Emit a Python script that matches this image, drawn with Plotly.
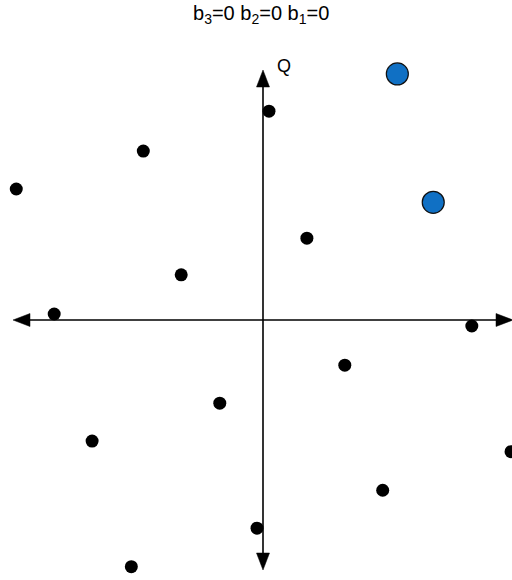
import plotly.graph_objects as go

# 16-point constellation (I/Q coordinates), rotated grid
i_black = [0.09, -1.80, -3.71, 0.66, -1.23, -3.14, 3.14, 1.23,
           -0.65, -2.57, 3.73, 1.80, -0.09, -1.98]
q_black = [3.14, 2.54, 1.97, 1.23, 0.68, 0.09, -0.09, -0.68,
           -1.25, -1.82, -1.98, -2.56, -3.13, -3.71]

# symbols selected by b3=0 b2=0 b1=0
i_sel = [2.02, 2.56]
q_sel = [3.70, 1.77]

title_text = "b<sub>3</sub>=0 b<sub>2</sub>=0 b<sub>1</sub>=0"
axis_label = "Q"

W, H = 512, 580
PX = 66.5                      # pixels per data unit (equal on both axes)
x_range = [-263 / PX, 249 / PX]
y_range = [-260 / PX, 320 / PX]

axis_half = 250 / PX           # half-length of the I/Q axis arrows
head_len = 17 / PX
head_half = 6.5 / PX
line_w = 1.6
FONT = "Arial, Liberation Sans, sans-serif"

fig = go.Figure()

fig.add_trace(go.Scatter(
    x=i_black, y=q_black, mode="markers",
    marker=dict(size=13, color="black", line=dict(width=0)),
    showlegend=False, hoverinfo="skip",
))
fig.add_trace(go.Scatter(
    x=i_sel, y=q_sel, mode="markers",
    marker=dict(size=22, color="#1070c4", line=dict(width=1.2, color="#111111")),
    showlegend=False, hoverinfo="skip",
))

shapes = []
# axis shafts
shapes.append(dict(type="line", x0=-axis_half + head_len * 0.5, x1=axis_half - head_len * 0.5,
                   y0=0, y1=0, line=dict(color="black", width=line_w)))
shapes.append(dict(type="line", y0=-axis_half + head_len * 0.5, y1=axis_half - head_len * 0.5,
                   x0=0, x1=0, line=dict(color="black", width=line_w)))


def head(tip_x, tip_y, dx, dy):
    """Filled triangular arrowhead pointing along (dx, dy)."""
    bx, by = tip_x - dx * head_len, tip_y - dy * head_len
    px, py = -dy * head_half, dx * head_half
    return dict(type="path",
                path=f"M {tip_x},{tip_y} L {bx + px},{by + py} L {bx - px},{by - py} Z",
                fillcolor="black", line=dict(color="black", width=0.5))


shapes.append(head(axis_half, 0, 1, 0))
shapes.append(head(-axis_half, 0, -1, 0))
shapes.append(head(0, axis_half, 0, 1))
shapes.append(head(0, -axis_half, 0, -1))

annotations = [
    dict(text=title_text, x=261 / W, y=1 - 14 / H, xref="paper", yref="paper",
         xanchor="center", yanchor="middle", showarrow=False,
         font=dict(family=FONT, size=20, color="black")),
    dict(text=axis_label, x=21 / PX, y=254 / PX, xref="x", yref="y",
         xanchor="center", yanchor="middle", showarrow=False,
         font=dict(family=FONT, size=18, color="black")),
]

fig.update_layout(
    width=W, height=H,
    margin=dict(l=0, r=0, t=0, b=0),
    paper_bgcolor="white", plot_bgcolor="white",
    xaxis=dict(range=x_range, visible=False, fixedrange=True),
    yaxis=dict(range=y_range, visible=False, fixedrange=True),
    shapes=shapes, annotations=annotations,
    showlegend=False,
)

fig.write_html("out.html")
